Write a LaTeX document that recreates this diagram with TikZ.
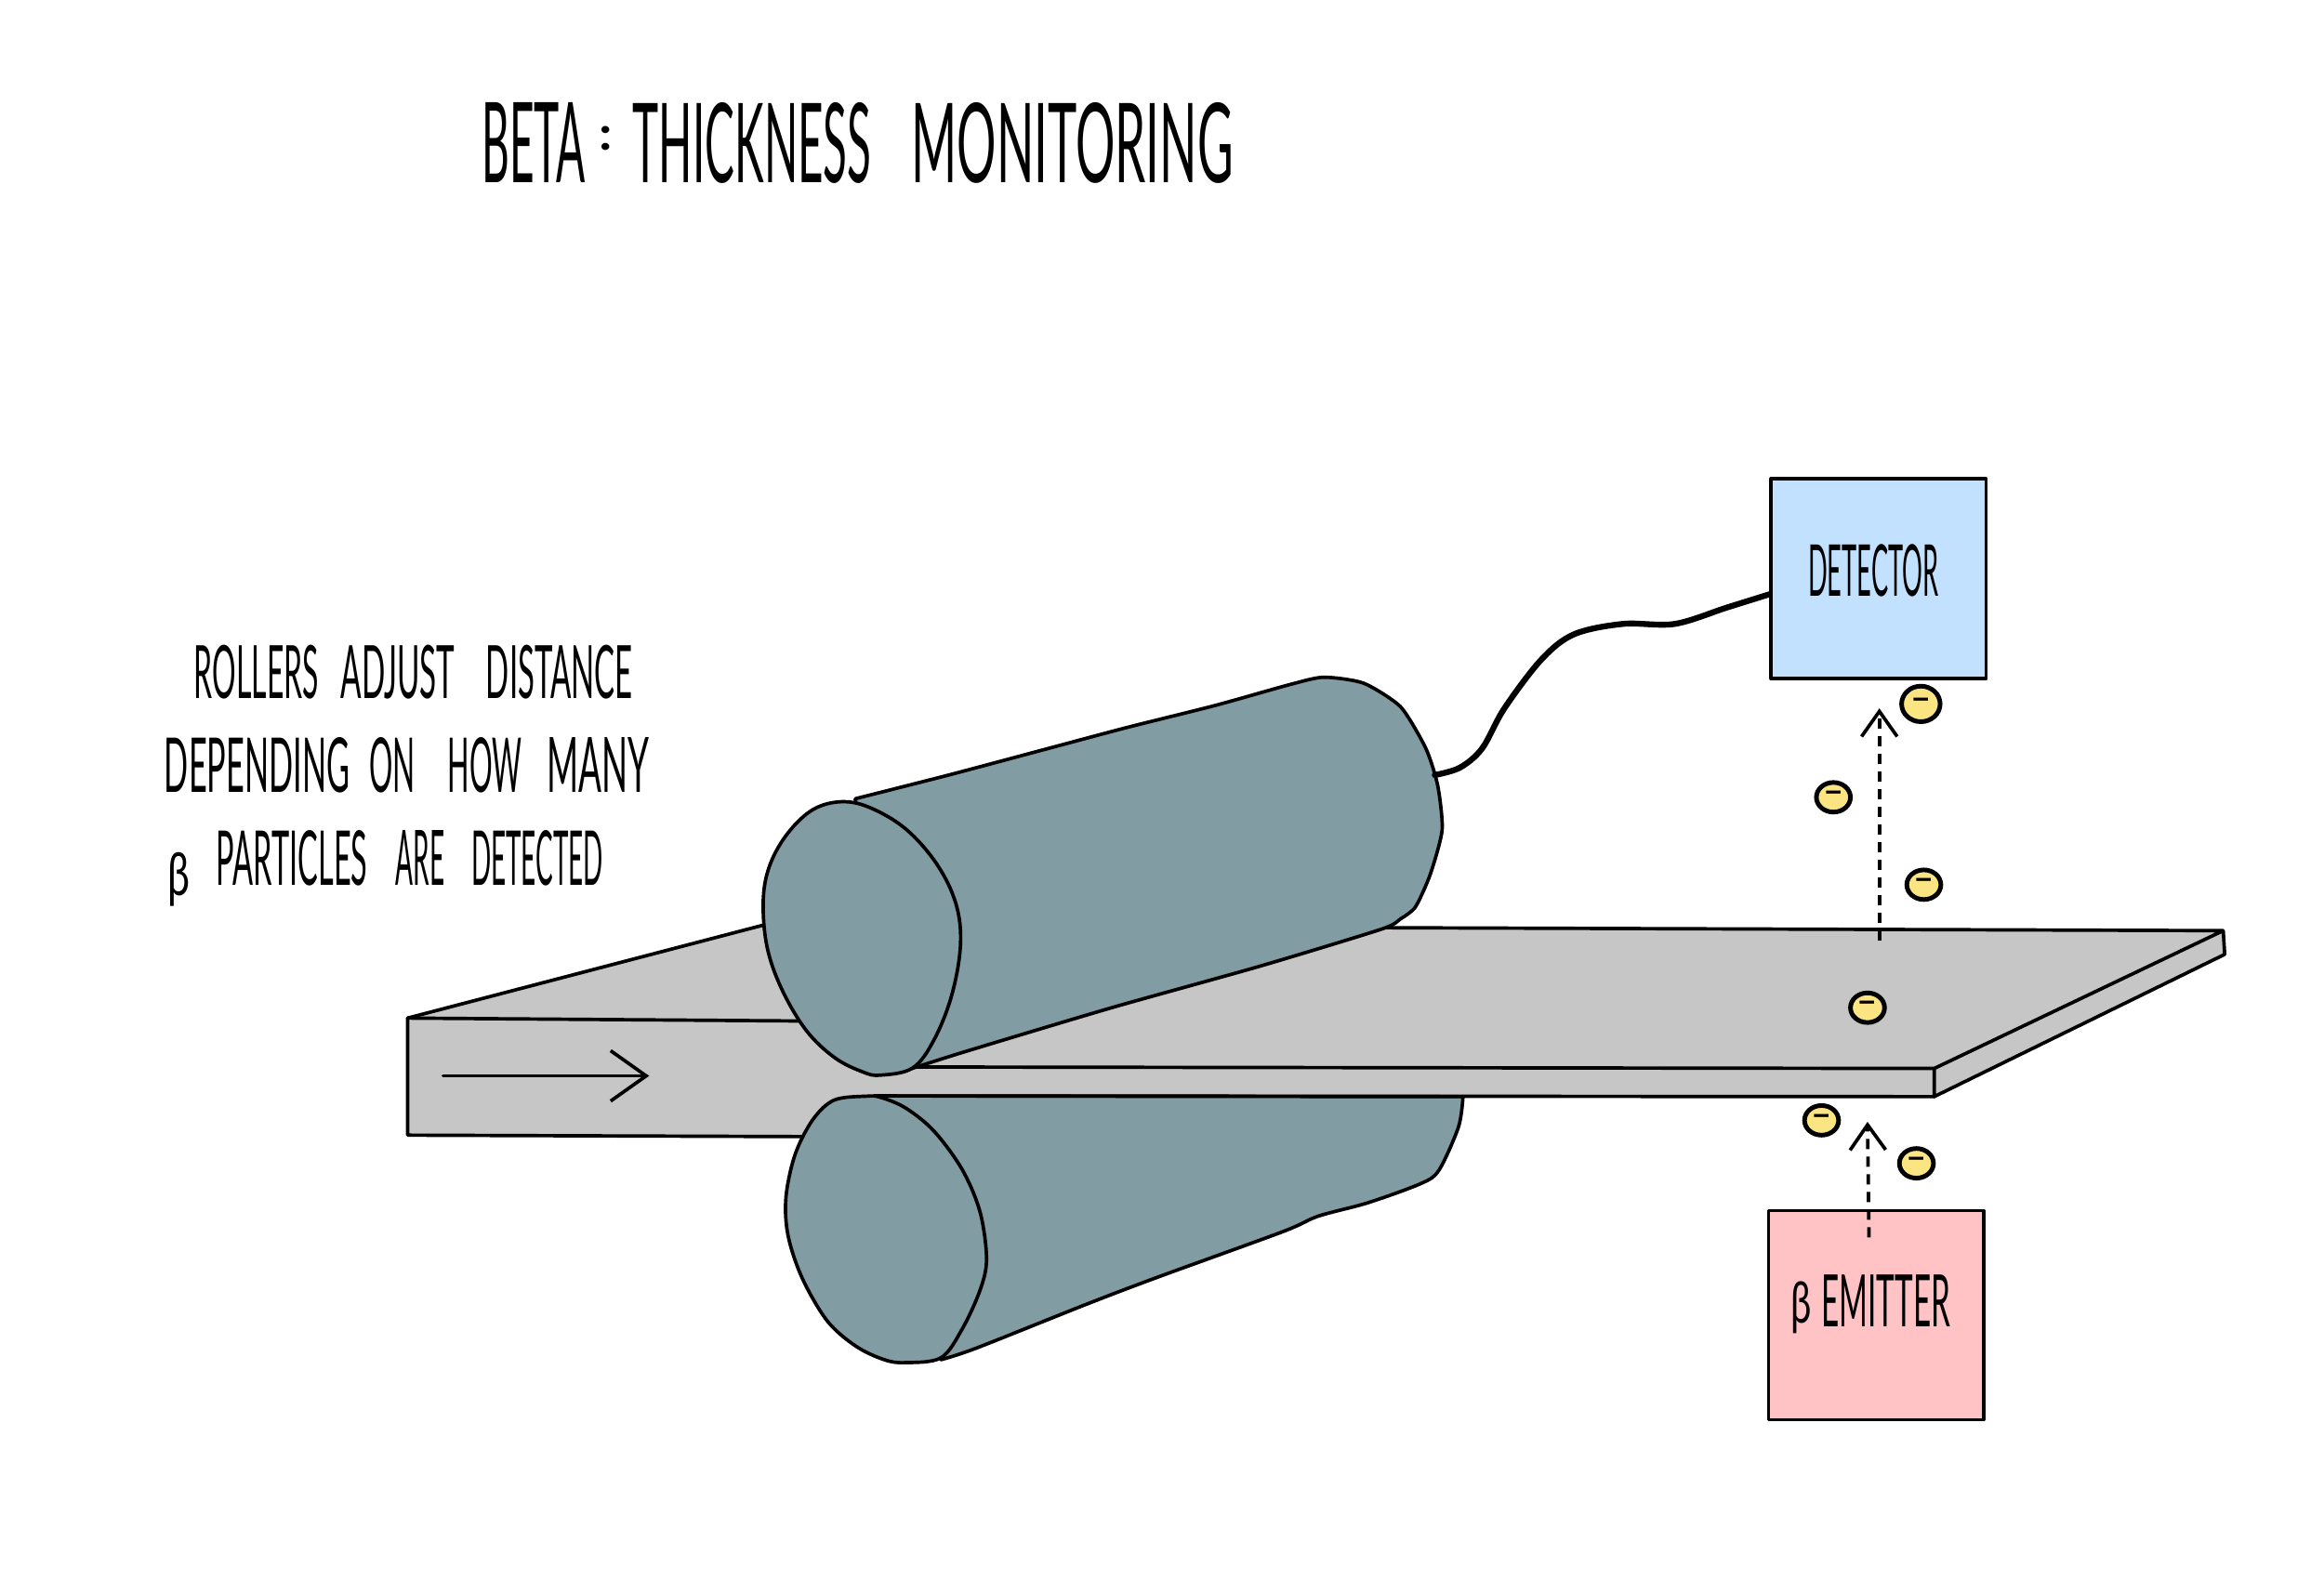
\documentclass[tikz,border=0pt]{standalone}
\usepackage{fontspec}
\usepackage{graphicx}
\usetikzlibrary{arrows.meta,shapes.geometric}
\setmainfont{Lato}
\newlength\pxu
\setlength\pxu{0.015944cm}
\definecolor{roller}{HTML}{829CA3}
\definecolor{sheet}{HTML}{C6C6C6}
\definecolor{detblue}{HTML}{C2E1FF}
\definecolor{emitpink}{HTML}{FFC2C5}
\definecolor{partyellow}{HTML}{FBE482}
\newcommand{\fittext}[3]{\resizebox{#1\pxu}{#2\pxu}{#3}}
\newcommand{\wgap}[1]{\hspace{#1\pxu}}
\tikzset{
  ink/.style={draw=black,line width=1.05pt,line join=round,line cap=round},
  hand/.style={inner sep=0pt,outer sep=0pt,anchor=south west,text=black},
  greek/.style={inner sep=0pt,outer sep=0pt,anchor=north west,text=black},
  sensorbox/.style={ink,rectangle,inner sep=0pt},
  particle/.style={draw=black,line width=1.4pt,ellipse,fill=partyellow,inner sep=0pt,minimum width=23\pxu,minimum height=20\pxu,font=\bfseries\fontsize{10pt}{10pt}\selectfont},
  flowline/.style={ink,-{Straight Barb[length=0.383cm,width=0.542cm,line width=1.05pt]}},
  rayline/.style={ink,line cap=butt,dash pattern=on 0.11cm off 0.08cm,-{Straight Barb[length=0.271cm,width=0.383cm,line width=1.05pt]}},
  wireline/.style={draw=black,line width=1.8pt,line cap=round,line join=round},
}
\begin{document}
\begin{tikzpicture}[x=0.015944cm,y=-0.015944cm]
\useasboundingbox (0,0) rectangle (1568,1075.6);
\fill[white] (0,0) rectangle (1568,1075.6);

% sheet
\path[fill=sheet] (275,687) -- (516,624) -- (932,626) -- (1500,628) -- (1501,644) -- (1305,740) -- (590,739) -- (560,767) -- (275,766) -- cycle;
\draw[ink] (516,624) -- (275,687) -- (275,766) -- (548,767);
\draw[ink] (275,687) -- (545,689);
\draw[ink] (932,626) -- (1500,628) -- (1501,644) -- (1305,740) -- (1305,721) -- (1500,628);
\draw[ink] (618,720) -- (1305,721);

% lower roller
\draw[ink,fill=roller] (590,739.5) -- (987,740) -- plot[smooth,tension=0.5] coordinates {(987,741) (984,760.6) (971,789.4) (959,798.5) (923,811.6) (889.3,820.7) (865.3,831.2) (779,862.6) (731,880.9) (659,909.6) (635,917.5)} -- cycle;
\draw[ink,fill=roller] plot[smooth cycle,tension=0.55] coordinates {(584.5,739.7) (562.9,742.3) (548.5,755.4) (536.5,778.9) (530.3,807.7) (531.7,833.8) (541.3,862.6) (558.1,891.3) (577.3,908.3) (596.5,917.5) (610.9,919.5) (634.9,916.2) (649.3,896.6) (661.3,870.4) (665.6,849.5) (661.3,818.1) (649.3,789.4) (630.1,763.2) (610.9,747.6) (594.1,740.5)};
\draw[ink] (590,739.5) -- (1305,740);

% arrow on the sheet front
\coordinate (flowA) at (299,726);
\coordinate (flowB) at (438,726);
\draw[flowline] (flowA) -- (flowB);

% upper roller
\draw[ink,fill=roller] plot[smooth,tension=0.4] coordinates {(577,539) (640,523) (700,507) (760,491) (820,476) (870,462) (893,457) (920,461) (945,477) (962,505) (970,530) (973,560) (965,590) (955,612) (945,620) (932,627) (850,652) (750,680) (650,710) (606,724)} -- (595,650) -- cycle;
\draw[ink,fill=roller] plot[smooth cycle,tension=0.6] coordinates {(567.7,541) (548.5,546.3) (531.7,562) (519.7,583) (515,606.4) (517.3,637.8) (527,666.5) (543.7,695) (563,713.6) (582,723.3) (594,725.5) (615.7,720.7) (630,702) (642,672) (648,638) (645,610) (632,583) (611,559.3) (587,545)};

% boxes
\node[sensorbox,fill=detblue,minimum width=145\pxu,minimum height=135\pxu] (detector) at (1267.5,390.5) {};
\node[sensorbox,fill=emitpink,minimum width=145\pxu,minimum height=141\pxu] (emitter) at (1265.8,887.5) {};

% wire
\coordinate (wirestart) at (968,523);
\coordinate (wireend) at (detector.west |- 0,401);
\draw[wireline] plot[smooth,tension=0.55] coordinates {(wirestart) (985,518) (1000,505) (1015,478) (1040,445) (1062,428) (1095,421) (1130,421) (1165,410) (wireend)};

% rays
\coordinate (rayAstart) at (1268,635);
\coordinate (rayAend) at (1268,478);
\coordinate (rayBstart) at (1261,835);
\coordinate (rayBend) at (1260,757);
\draw[rayline] (rayAstart) -- (rayAend);
\draw[rayline] (rayBstart) -- (rayBend);

% particles
\node[particle,minimum width=26\pxu,minimum height=24\pxu] (p1) at (1296,475) {−};
\node[particle] (p2) at (1237,538) {−};
\node[particle] (p3) at (1298,597) {−};
\node[particle] (p4) at (1260,680) {−};
\node[particle] (p5) at (1229,756) {−};
\node[particle] (p6) at (1293,785) {−};

% texts
\node[hand] (title) at (325,124) {\fittext{70}{54}{BETA}\wgap{9}\raisebox{22\pxu}{\fittext{9}{16}{\bfseries :}}\wgap{14}\fittext{161}{54}{THICKNESS}\wgap{27}\fittext{217}{54}{MONITORING}};
\node[hand] (l1) at (131,472) {\fittext{84}{36}{ROLLERS}\wgap{15}\fittext{77}{36}{ADJUST}\wgap{21}\fittext{99}{36}{DISTANCE}};
\node[hand] (l2) at (111,535) {\fittext{125}{37}{DEPENDING}\wgap{13}\fittext{31}{37}{ON}\wgap{22}\fittext{50}{37}{HOW}\wgap{17}\fittext{69}{37}{MANY}};
\node[hand] (l3) at (146,598) {\fittext{102}{37}{PARTICLES}\wgap{19}\fittext{33}{37}{ARE}\wgap{18}\fittext{89}{37}{DETECTED}};
\node[greek] (beta1) at (113,575) {\fittext{15}{29}{β}};
\node[hand] (dettext) at (1220,403) {\fittext{88}{35}{DETECTOR}};
\node[hand] (emittext) at (1229,895) {\fittext{87}{35}{EMITTER}};
\node[greek] (beta2) at (1208,865) {\fittext{14}{28}{β}};
\end{tikzpicture}
\end{document}
